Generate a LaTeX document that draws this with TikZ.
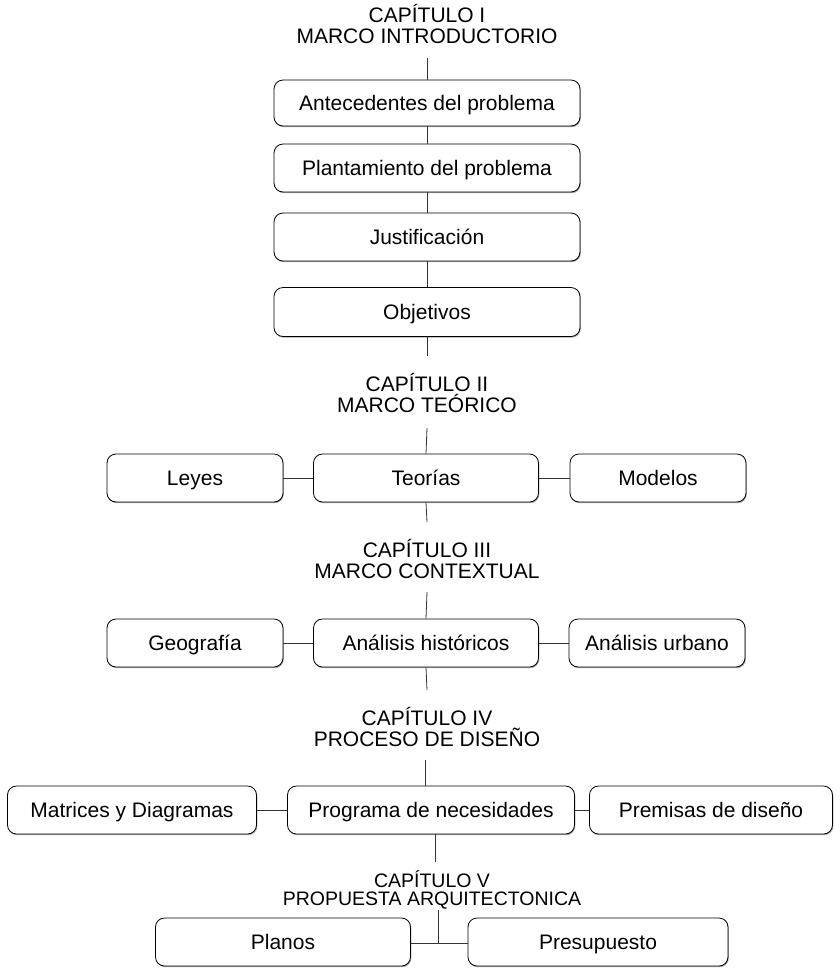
\documentclass[tikz,border=0pt]{standalone}
\usepackage{fontspec}
\setmainfont{Liberation Sans}
\usetikzlibrary{shadows}
\begin{document}
\begin{tikzpicture}[x=1pt,y=-1pt,
  box/.style={draw=black, line width=0.8pt, rounded corners=9pt, fill=white,
    drop shadow={shadow xshift=0.8pt, shadow yshift=-1.2pt, fill=gray!70, opacity=1},
    inner sep=0pt, text height=15pt, text depth=0pt, font=\fontsize{21}{23}\selectfont},
  head/.style={inner sep=0pt, anchor=base, font=\fontsize{21}{22}\selectfont},
  headv/.style={inner sep=0pt, anchor=base, font=\fontsize{19.5}{20}\selectfont},
  conn/.style={draw=black!80, line width=0.8pt}]
\useasboundingbox (0,0) rectangle (839,970);

% Chapter I
\node[head] (h1a) at (427,22) {CAPÍTULO I};
\node[head] (h1b) at (427,43) {MARCO INTRODUCTORIO};
\coordinate (t1) at (427,58);
\node[box, minimum width=306pt, minimum height=46pt] (b1) at (427,103) {Antecedentes del problema};
\node[box, minimum width=306pt, minimum height=48pt] (b2) at (427,168) {Plantamiento del problema};
\node[box, minimum width=306pt, minimum height=48pt] (b3) at (427,237) {Justificación};
\node[box, minimum width=306pt, minimum height=49pt] (b4) at (427,312) {Objetivos};
\coordinate (t2) at (427,356);
\draw[conn] (t1) -- (b1.north);
\draw[conn] (b1.south) -- (b2.north);
\draw[conn] (b2.south) -- (b3.north);
\draw[conn] (b3.south) -- (b4.north);
\draw[conn] (b4.south) -- (t2);

% Chapter II
\node[head] (h2a) at (427,391) {CAPÍTULO II};
\node[head] (h2b) at (427,412) {MARCO TEÓRICO};
\coordinate (t3) at (427,428);
\node[box, minimum width=176pt, minimum height=48pt] (leyes) at (195,478) {Leyes};
\node[box, minimum width=225pt, minimum height=48pt] (teo) at (426,478) {Teorías};
\node[box, minimum width=176pt, minimum height=48pt] (mod) at (658,478) {Modelos};
\coordinate (t4) at (427,522);
\draw[conn] (t3) -- (teo.north);
\draw[conn] (leyes.east) -- (teo.west);
\draw[conn] (teo.east) -- (mod.west);
\draw[conn] (teo.south) -- (t4);

% Chapter III
\node[head] (h3a) at (427,557) {CAPÍTULO III};
\node[head] (h3b) at (427,578) {MARCO CONTEXTUAL};
\coordinate (t5) at (427,592);
\node[box, minimum width=176pt, minimum height=48pt] (geo) at (195,643) {Geografía};
\node[box, minimum width=225pt, minimum height=48pt] (hist) at (426,643) {Análisis históricos};
\node[box, minimum width=176pt, minimum height=48pt] (urb) at (657,643) {Análisis urbano};
\coordinate (t6) at (427,690);
\draw[conn] (t5) -- (hist.north);
\draw[conn] (geo.east) -- (hist.west);
\draw[conn] (hist.east) -- (urb.west);
\draw[conn] (hist.south) -- (t6);

% Chapter IV
\node[head] (h4a) at (427,725) {CAPÍTULO IV};
\node[head] (h4b) at (427,746) {PROCESO DE DISEÑO};
\coordinate (t7) at (425,760);
\node[box, minimum width=249pt, minimum height=48pt] (mat) at (132,810) {Matrices y Diagramas};
\node[box, minimum width=287pt, minimum height=48pt] (prog) at (431,810) {Programa de necesidades};
\node[box, minimum width=243pt, minimum height=48pt] (prem) at (711,810) {Premisas de diseño};
\coordinate (t8) at (435,862);
\draw[conn] (t7) -- (t7 |- prog.north);
\draw[conn] (mat.east) -- (prog.west);
\draw[conn] (prog.east) -- (prem.west);
\draw[conn] (t8 |- prog.south) -- (t8);

% Chapter V
\node[headv] (h5a) at (432,887) {CAPÍTULO V};
\node[headv] (h5b) at (432,905) {PROPUESTA ARQUITECTONICA};
\coordinate (t9) at (438,910);
\coordinate (j5) at (438,943);
\node[box, minimum width=255pt, minimum height=48pt] (plan) at (283,942) {Planos};
\node[box, minimum width=260pt, minimum height=48pt] (pres) at (598,942) {Presupuesto};
\draw[conn] (t9) -- (j5);
\draw[conn] (plan.east |- j5) -- (pres.west |- j5);
\end{tikzpicture}
\end{document}
